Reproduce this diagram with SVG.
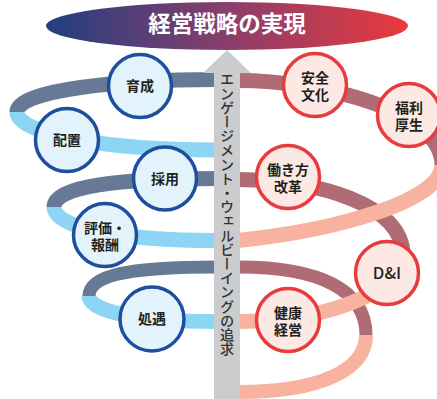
<svg xmlns="http://www.w3.org/2000/svg" width="437" height="399" viewBox="0 0 437 399">
<defs>
<linearGradient id="gTop" x1="0" y1="0" x2="1" y2="0">
<stop offset="0" stop-color="#213f80"/>
<stop offset="0.5" stop-color="#8a3e6c"/>
<stop offset="1" stop-color="#ea393c"/>
</linearGradient>
<style>
.band{fill:none;stroke-linecap:butt}
.bk{stroke:#677a95}
.lb{stroke:#8dd5f4}
.mv{stroke:#b06c74}
.sl{stroke:#f7b2a0}
.cb{fill:#e2f3fb;stroke:#1d4f9e;stroke-width:3.5}
.cr{fill:#fde9e3;stroke:#e83b3f;stroke-width:3.5}
.t{font-family:"Noto Sans CJK JP","Noto Sans",sans-serif;font-weight:700;font-size:14px;fill:#231f20;text-anchor:middle}
</style>
</defs>
<rect width="437" height="399" fill="#ffffff"/>
<g id="connectors">
<!-- back (dark) halves -->
<path class="band bk" stroke-width="15" d="M216,79.5 C120,79.5 17,90 17,112"/>
<path class="band bk" stroke-width="15" d="M216,178.5 C120,178.5 54,186 54,207"/>
<path class="band bk" stroke-width="13" d="M216,267 C130,267 89,275 89,296"/>
<path class="band mv" stroke-width="15" d="M238,80.5 C320,80.5 442,110 442,165"/>
<path class="band mv" stroke-width="15" d="M238,179.5 C320,180 403,205 403,255"/>
<path class="band mv" stroke-width="13" d="M238,267 C320,267 366,290 366,335"/>
<!-- front (light) halves -->
<path class="band lb" stroke-width="15" d="M17,112 C17,135 110,150 216,150"/>
<path class="band lb" stroke-width="15" d="M54,207 C54,228 120,240.5 216,240.5"/>
<path class="band lb" stroke-width="15" d="M89,296 C89,312 140,321.5 216,321.5"/>
<path class="band sl" stroke-width="15" d="M442,165 C442,200 340,230 238,240.5"/>
<path class="band sl" stroke-width="15" d="M403,255 C403,290 330,321.5 238,321.5"/>
<path class="band sl" stroke-width="14" d="M366,335 C366,370 320,392 238,392"/>
</g>
<g id="arrow">
<polygon points="227,50 251,73 240,73 240,399 214,399 214,73 203,73" fill="#cbcccd"/>
<text x="227" y="72" style="writing-mode:vertical-rl;font-family:'Noto Sans CJK JP',sans-serif;font-size:14.2px;font-weight:500;fill:#333333">エンゲージメント・ウェルビーイングの追求</text>
</g>
<g id="goal">
<ellipse cx="227" cy="26" rx="181" ry="24" fill="url(#gTop)"/>
<text x="227" y="31.5" style="font-family:'Noto Sans CJK JP',sans-serif;font-weight:700;font-size:22.5px;fill:#ffffff;text-anchor:middle">経営戦略の実現</text>
</g>
<g id="node-ikusei"><circle class="cb" cx="140" cy="86" r="31.5"/><text class="t" x="140" y="91">育成</text></g>
<g id="node-haichi"><circle class="cb" cx="67" cy="140" r="31.5"/><text class="t" x="67" y="145">配置</text></g>
<g id="node-saiyo"><circle class="cb" cx="165" cy="178.5" r="31.5"/><text class="t" x="165" y="183.5">採用</text></g>
<g id="node-hyoka"><circle class="cb" cx="105" cy="235" r="31.5"/><text class="t" x="105" y="232.5">評価・</text><text class="t" x="105" y="250">報酬</text></g>
<g id="node-shogu"><circle class="cb" cx="152" cy="319" r="32"/><text class="t" x="152" y="324">処遇</text></g>
<g id="node-anzen"><circle class="cr" cx="315" cy="85" r="31.5"/><text class="t" x="315" y="82.5">安全</text><text class="t" x="315" y="100">文化</text></g>
<g id="node-fukuri"><circle class="cr" cx="409" cy="115" r="31.5"/><text class="t" x="409" y="112.5">福利</text><text class="t" x="409" y="130">厚生</text></g>
<g id="node-hatarakikata"><circle class="cr" cx="288" cy="177" r="31.5"/><text class="t" x="288" y="174.5">働き方</text><text class="t" x="288" y="192">改革</text></g>
<g id="node-dei"><circle class="cr" cx="387" cy="273" r="31.5"/><text x="387" y="279" style="font-family:'Noto Sans CJK JP','Noto Sans',sans-serif;font-weight:500;font-size:16.5px;fill:#231f20;text-anchor:middle">D&amp;I</text></g>
<g id="node-kenko"><circle class="cr" cx="288" cy="320" r="31.5"/><text class="t" x="288" y="317.5">健康</text><text class="t" x="288" y="335">経営</text></g>
</svg>
